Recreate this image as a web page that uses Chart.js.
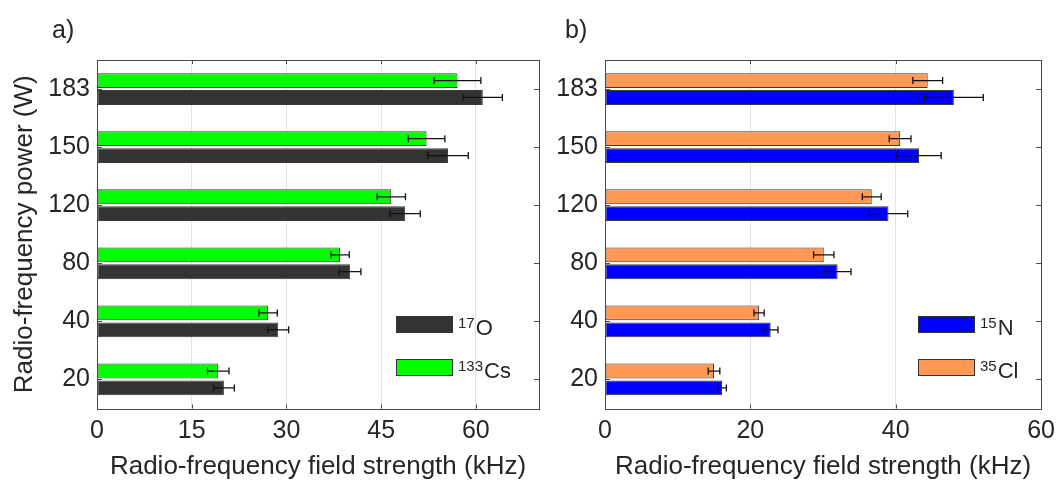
<!DOCTYPE html>
<html lang="en">
<head>
<meta charset="UTF-8">
<title>RF field strength vs RF power</title>
<script src="https://cdn.jsdelivr.net/npm/chart.js"></script>
<style>
  body { margin: 0; background: #fff; }
  .panel { position: absolute; top: 0; }
  #wrapA { left: 0; }
  #wrapB { left: 545px; }
</style>
</head>
<body>
<div class="panel" id="wrapA"><canvas id="chartA" width="545" height="481"></canvas></div>
<div class="panel" id="wrapB"><canvas id="chartB" width="518" height="481"></canvas></div>
<script>
// RF power levels (W), listed top to bottom
const powerLabels = ['183', '150', '120', '80', '40', '20'];

// panel a: 133Cs and 17O field strengths (kHz) and their errors
const cs133 = [57.1, 52.2, 46.6, 38.5, 27.1, 19.2];
const cs133Err = [3.7, 2.9, 2.25, 1.45, 1.45, 1.7];
const o17 = [61.1, 55.6, 48.8, 40.1, 28.7, 20.1];
const o17Err = [3.1, 3.2, 2.4, 1.7, 1.65, 1.65];

// panel b: 35Cl and 15N field strengths (kHz) and their errors
const cl35 = [44.4, 40.6, 36.7, 30.1, 21.2, 15.0];
const cl35Err = [2.05, 1.5, 1.3, 1.4, 0.7, 0.8];
const n15 = [48.0, 43.2, 39.0, 32.0, 22.8, 16.1];
const n15Err = [4.05, 3.05, 2.65, 1.85, 1.0, 0.6];

const xTicksA = [0, 15, 30, 45, 60];
const xTicksB = [0, 20, 40, 60];

const FONT = "'Liberation Sans', Arial, Helvetica, sans-serif";
const TEXT = '#262626';

// symmetric horizontal error bars at the end of every bar
const errorBars = {
  id: 'errorBars',
  afterDatasetsDraw(chart) {
    const ctx = chart.ctx;
    const xs = chart.scales.x;
    ctx.save();
    ctx.strokeStyle = '#111';
    ctx.lineWidth = 1.3;
    chart.data.datasets.forEach((ds, i) => {
      const meta = chart.getDatasetMeta(i);
      meta.data.forEach((bar, j) => {
        const v = ds.data[j], e = ds.errors[j];
        const x1 = xs.getPixelForValue(v - e);
        const x2 = xs.getPixelForValue(v + e);
        const y = bar.y;
        ctx.beginPath();
        ctx.moveTo(x1, y); ctx.lineTo(x2, y);
        ctx.moveTo(x1, y - 3.5); ctx.lineTo(x1, y + 3.5);
        ctx.moveTo(x2, y - 3.5); ctx.lineTo(x2, y + 3.5);
        ctx.stroke();
      });
    });
    ctx.restore();
  }
};

// box around the plot area with inward tick marks
const axesBox = {
  id: 'axesBox',
  afterDatasetsDraw(chart) {
    const {ctx, chartArea: a, scales: {x, y}} = chart;
    ctx.save();
    ctx.strokeStyle = '#4a4a4a';
    ctx.lineWidth = 1;
    ctx.beginPath();
    x.ticks.forEach(t => {
      const px = Math.round(x.getPixelForValue(t.value)) + 0.5;
      ctx.moveTo(px, a.bottom); ctx.lineTo(px, a.bottom - 4);
      ctx.moveTo(px, a.top); ctx.lineTo(px, a.top + 4);
    });
    y.ticks.forEach((t, i) => {
      const py = Math.round(y.getPixelForTick(i)) + 0.5;
      ctx.moveTo(a.left, py); ctx.lineTo(a.left + 5, py);
      ctx.moveTo(a.right, py); ctx.lineTo(a.right - 5, py);
    });
    ctx.stroke();
    ctx.strokeRect(Math.round(a.left) + 0.5, Math.round(a.top) + 0.5,
      Math.round(a.right - a.left), Math.round(a.bottom - a.top));
    ctx.restore();
  }
};

// legend inside the axes, with mass numbers as superscripts
const boxLegend = {
  id: 'boxLegend',
  afterDraw(chart, args, opts) {
    const ctx = chart.ctx;
    ctx.save();
    opts.order.forEach((idx, k) => {
      const ds = chart.data.datasets[idx];
      const top = opts.top + k * 43;
      ctx.fillStyle = ds.backgroundColor;
      ctx.fillRect(opts.left, top, 57, 17);
      ctx.strokeStyle = '#333';
      ctx.lineWidth = 1;
      ctx.strokeRect(opts.left + 0.5, top + 0.5, 56, 16);
      ctx.fillStyle = TEXT;
      ctx.textBaseline = 'alphabetic';
      ctx.textAlign = 'left';
      ctx.font = '15px ' + FONT;
      const tx = opts.left + 62;
      ctx.fillText(ds.mass, tx, top + 12);
      const w = ctx.measureText(ds.mass).width;
      ctx.font = '22px ' + FONT;
      ctx.fillText(ds.element, tx + w + 1, top + 19);
    });
    ctx.restore();
  }
};

// panel letter in the top-left corner
const panelTag = {
  id: 'panelTag',
  afterDraw(chart, args, opts) {
    const ctx = chart.ctx;
    ctx.save();
    ctx.fillStyle = TEXT;
    ctx.font = '25px ' + FONT;
    ctx.textBaseline = 'middle';
    ctx.fillText(opts.text, opts.x, opts.y);
    ctx.restore();
  }
};

function makeChart(id, sets, xMax, xTicks, opt) {
  return new Chart(document.getElementById(id), {
    type: 'bar',
    data: {
      labels: powerLabels,
      datasets: sets.map(s => ({
        label: s.label,
        mass: s.mass,
        element: s.element,
        data: s.data,
        errors: s.errors,
        backgroundColor: s.color,
        borderColor: '#3a3a3a',
        borderWidth: 1,
        borderSkipped: false,
        categoryPercentage: 0.58,
        barPercentage: 0.88
      }))
    },
    options: {
      indexAxis: 'y',
      responsive: false,
      animation: false,
      layout: { padding: { top: 60, right: opt.padRight, left: 0, bottom: 0 } },
      plugins: {
        legend: { display: false },
        tooltip: { enabled: false },
        boxLegend: { order: [1, 0], left: opt.legendLeft, top: 316 },
        panelTag: { text: opt.tag, x: opt.tagX, y: 31 }
      },
      scales: {
        x: {
          min: 0,
          max: xMax,
          afterBuildTicks: s => { s.ticks = xTicks.map(v => ({ value: v })); },
          afterFit: s => { s.height = 72.5; },
          grid: {
            drawTicks: false,
            color: c => (c.tick && c.tick.value === 0) ? 'rgba(0,0,0,0)' : '#e2e2e2'
          },
          border: { display: false },
          ticks: { padding: 8, color: TEXT, font: { family: FONT, size: 25 } },
          title: {
            display: true,
            text: 'Radio-frequency field strength (kHz)',
            color: TEXT,
            font: { family: FONT, size: 26, lineHeight: 1.1 },
            padding: { top: 0, bottom: 0 }
          }
        },
        y: {
          afterFit: s => { s.width = opt.yWidth; },
          grid: { display: false, drawTicks: false },
          border: { display: false },
          ticks: { padding: 7, color: TEXT, font: { family: FONT, size: 25 } },
          title: {
            display: opt.yTitle,
            text: 'Radio-frequency power (W)',
            color: TEXT,
            font: { family: FONT, size: 26, lineHeight: 1.1 },
            padding: { top: 11, bottom: 0 }
          }
        }
      }
    },
    plugins: [errorBars, axesBox, boxLegend, panelTag]
  });
}

makeChart('chartA', [
  { label: '133Cs', mass: '133', element: 'Cs', data: cs133, errors: cs133Err, color: '#00ff00' },
  { label: '17O', mass: '17', element: 'O', data: o17, errors: o17Err, color: '#333333' }
], 70, xTicksA, { yWidth: 97, padRight: 6, legendLeft: 396, tag: 'a)', tagX: 52, yTitle: true });

makeChart('chartB', [
  { label: '35Cl', mass: '35', element: 'Cl', data: cl35, errors: cl35Err, color: '#ff9955' },
  { label: '15N', mass: '15', element: 'N', data: n15, errors: n15Err, color: '#0000ff' }
], 60, xTicksB, { yWidth: 60, padRight: 16, legendLeft: 373, tag: 'b)', tagX: 20, yTitle: false });
</script>
</body>
</html>
